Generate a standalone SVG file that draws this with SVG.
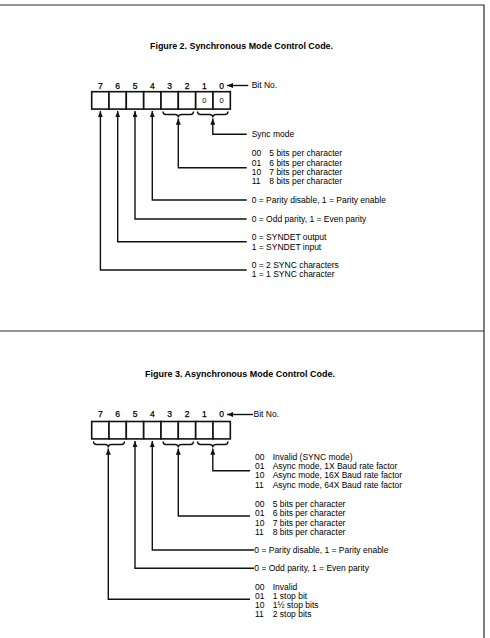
<svg xmlns="http://www.w3.org/2000/svg" width="490" height="638" viewBox="0 0 490 638">
  <style>
    .frame { stroke: #2a2a2a; stroke-width: 1.2; fill: none; }
    .title { font-family: "Liberation Sans", Arial, sans-serif; font-weight: bold; font-size: 9px; fill: #000; }
    .num { font-family: "Liberation Sans", Arial, sans-serif; font-size: 8.5px; fill: #000; stroke: #000; stroke-width: 0.25; text-anchor: middle; }
    .cellval { font-family: "Liberation Sans", Arial, sans-serif; font-size: 7.5px; fill: #000; text-anchor: middle; }
    .lbl { font-family: "Liberation Sans", Arial, sans-serif; font-size: 8.5px; fill: #000; }
    .box { fill: #fff; stroke: #111; stroke-width: 1.6; }
    .wire { fill: none; stroke: #111; stroke-width: 1.4; }
    .brace { fill: none; stroke: #111; stroke-width: 1.4; }
  </style>
  <defs>
    <marker id="arr" viewBox="0 0 10 8" refX="10" refY="4" markerUnits="userSpaceOnUse" markerWidth="6.5" markerHeight="5" orient="auto">
      <path d="M0,0 L10,4 L0,8 z" fill="#111"/>
    </marker>
    <!-- one bit cell, 17.33 wide -->
    <rect id="cell" x="0" y="0" width="17.33" height="17.4" class="box"/>
  </defs>

  <rect width="490" height="638" fill="#fff"/>

  <!-- page frame -->
  <g id="frame">
    <path class="frame" d="M0,5 H484 V638"/>
    <path class="frame" d="M0,331 H484"/>
  </g>

  <!-- ===== Figure 2: synchronous mode ===== -->
  <g id="fig2">
    <text class="title" x="150" y="49" textLength="183" lengthAdjust="spacingAndGlyphs">Figure 2. Synchronous Mode Control Code.</text>

    <g id="fig2-register">
      <g class="num">
        <text x="100.4" y="89">7</text>
        <text x="117.7" y="89">6</text>
        <text x="135" y="89">5</text>
        <text x="152.3" y="89">4</text>
        <text x="169.7" y="89">3</text>
        <text x="187" y="89">2</text>
        <text x="204.3" y="89">1</text>
        <text x="221.7" y="89">0</text>
      </g>
      <use href="#cell" x="91.7" y="91.7"/>
      <use href="#cell" x="109" y="91.7"/>
      <use href="#cell" x="126.3" y="91.7"/>
      <use href="#cell" x="143.7" y="91.7"/>
      <use href="#cell" x="161" y="91.7"/>
      <use href="#cell" x="178.3" y="91.7"/>
      <use href="#cell" x="195.7" y="91.7"/>
      <use href="#cell" x="213" y="91.7"/>
      <text class="cellval" x="204.3" y="103">0</text>
      <text class="cellval" x="221.7" y="103">0</text>
      <text class="lbl" x="251.7" y="88">Bit No.</text>
    </g>

    <g id="fig2-braces">
      <path class="brace" d="M163,111.5 Q163,114.5 166,114.5 H175 Q178.3,114.5 178.3,117.5 Q178.3,114.5 181.6,114.5 H190.5 Q193.5,114.5 193.5,111.5"/>
      <path class="brace" d="M197.5,111.5 Q197.5,114.5 200.5,114.5 H209.5 Q212.8,114.5 212.8,117.5 Q212.8,114.5 216.1,114.5 H225 Q228,114.5 228,111.5"/>
    </g>

    <g id="fig2-labels" class="lbl">
      <text x="251.7" y="137.3">Sync mode</text>
      <text x="251.7" y="156.3">00</text><text x="269.3" y="156.3">5 bits per character</text>
      <text x="251.7" y="165.7">01</text><text x="269.3" y="165.7">6 bits per character</text>
      <text x="251.7" y="175">10</text><text x="269.3" y="175">7 bits per character</text>
      <text x="251.7" y="184.3">11</text><text x="269.3" y="184.3">8 bits per character</text>
      <text x="251.7" y="203">0 = Parity disable, 1 = Parity enable</text>
      <text x="251.7" y="222">0 = Odd parity, 1 = Even parity</text>
      <text x="251.7" y="240.3">0 = SYNDET output</text>
      <text x="251.7" y="249.7">1 = SYNDET input</text>
      <text x="251.7" y="268.3">0 = 2 SYNC characters</text>
      <text x="251.7" y="277.3">1 = 1 SYNC character</text>
    </g>

    <g id="fig2-connectors">
      <path class="wire" marker-end="url(#arr)" d="M248.3,85.5 H227"/>
      <path class="wire" marker-end="url(#arr)" d="M246.7,134.3 H212.8 V118.5"/>
      <path class="wire" marker-end="url(#arr)" d="M246.7,167.7 H178.3 V118.5"/>
      <path class="wire" marker-end="url(#arr)" d="M246.7,200 H152.3 V111"/>
      <path class="wire" marker-end="url(#arr)" d="M246.7,219 H135 V111"/>
      <path class="wire" marker-end="url(#arr)" d="M246.7,241.7 H117.7 V111"/>
      <path class="wire" marker-end="url(#arr)" d="M246.7,270 H100.4 V111"/>
    </g>
  </g>

  <!-- ===== Figure 3: asynchronous mode ===== -->
  <g id="fig3">
    <text class="title" x="145" y="377.3" textLength="190" lengthAdjust="spacingAndGlyphs">Figure 3. Asynchronous Mode Control Code.</text>

    <g id="fig3-register">
      <g class="num">
        <text x="100.4" y="417">7</text>
        <text x="117.7" y="417">6</text>
        <text x="135" y="417">5</text>
        <text x="152.3" y="417">4</text>
        <text x="169.7" y="417">3</text>
        <text x="187" y="417">2</text>
        <text x="204.3" y="417">1</text>
        <text x="221.7" y="417">0</text>
      </g>
      <use href="#cell" x="91.7" y="421.5"/>
      <use href="#cell" x="109" y="421.5"/>
      <use href="#cell" x="126.3" y="421.5"/>
      <use href="#cell" x="143.7" y="421.5"/>
      <use href="#cell" x="161" y="421.5"/>
      <use href="#cell" x="178.3" y="421.5"/>
      <use href="#cell" x="195.7" y="421.5"/>
      <use href="#cell" x="213" y="421.5"/>
      <text class="lbl" x="253.5" y="417">Bit No.</text>
    </g>

    <g id="fig3-braces">
      <path class="brace" d="M93.5,441.5 Q93.5,444.5 96.5,444.5 H105 Q108.3,444.5 108.3,447.5 Q108.3,444.5 111.6,444.5 H121.5 Q124.5,444.5 124.5,441.5"/>
      <path class="brace" d="M163,441.5 Q163,444.5 166,444.5 H175 Q178.3,444.5 178.3,447.5 Q178.3,444.5 181.6,444.5 H190.5 Q193.5,444.5 193.5,441.5"/>
      <path class="brace" d="M197.5,441.5 Q197.5,444.5 200.5,444.5 H209.5 Q212.8,444.5 212.8,447.5 Q212.8,444.5 216.1,444.5 H225 Q228,444.5 228,441.5"/>
    </g>

    <g id="fig3-labels" class="lbl">
      <text x="255" y="459.7">00</text><text x="272.7" y="459.7">Invalid (SYNC mode)</text>
      <text x="255" y="469">01</text><text x="272.7" y="469">Async mode, 1X Baud rate factor</text>
      <text x="255" y="478.3">10</text><text x="272.7" y="478.3">Async mode, 16X Baud rate factor</text>
      <text x="255" y="487.7">11</text><text x="272.7" y="487.7">Async mode, 64X Baud rate factor</text>
      <text x="255" y="507">00</text><text x="272.7" y="507">5 bits per character</text>
      <text x="255" y="516.3">01</text><text x="272.7" y="516.3">6 bits per character</text>
      <text x="255" y="525.7">10</text><text x="272.7" y="525.7">7 bits per character</text>
      <text x="255" y="534.7">11</text><text x="272.7" y="534.7">8 bits per character</text>
      <text x="254.3" y="553">0 = Parity disable, 1 = Parity enable</text>
      <text x="254.3" y="571.3">0 = Odd parity, 1 = Even parity</text>
      <text x="255" y="590.3">00</text><text x="272.7" y="590.3">Invalid</text>
      <text x="255" y="599.3">01</text><text x="272.7" y="599.3">1 stop bit</text>
      <text x="255" y="608">10</text><text x="272.7" y="608">1½ stop bits</text>
      <text x="255" y="617">11</text><text x="272.7" y="617">2 stop bits</text>
    </g>

    <g id="fig3-connectors">
      <path class="wire" marker-end="url(#arr)" d="M253,414.5 H227"/>
      <path class="wire" marker-end="url(#arr)" d="M250,470.7 H212.8 V448.5"/>
      <path class="wire" marker-end="url(#arr)" d="M250,516 H178.3 V448.5"/>
      <path class="wire" marker-end="url(#arr)" d="M254,550 H152.3 V441"/>
      <path class="wire" marker-end="url(#arr)" d="M254,568.3 H135 V441"/>
      <path class="wire" marker-end="url(#arr)" d="M250,599.3 H108.3 V448.5"/>
    </g>
  </g>
</svg>
